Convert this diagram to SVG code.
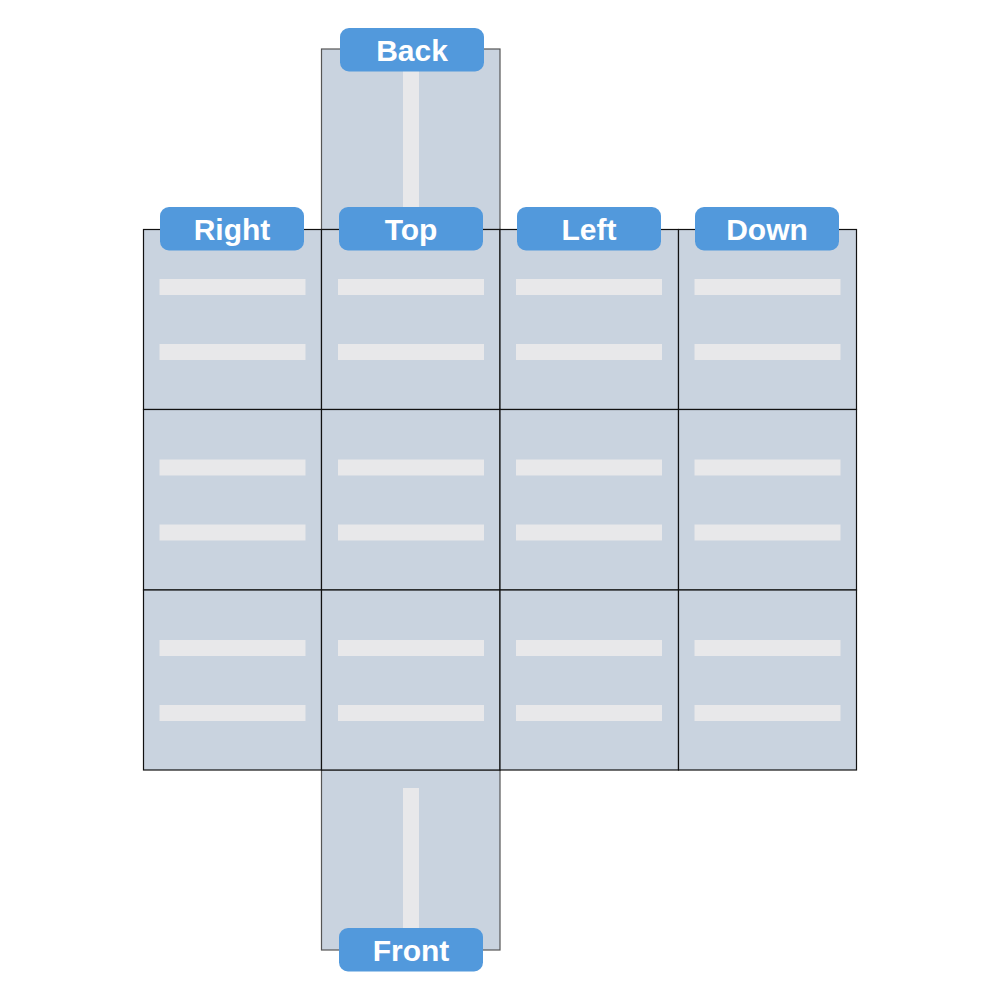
<svg xmlns="http://www.w3.org/2000/svg" width="1000" height="1000" viewBox="0 0 1000 1000">
<style>
.cell{fill:#c9d3df;stroke:#111;stroke-width:1.2}
.flap{fill:#c9d3df;stroke:#555;stroke-width:1.2}
.bar{fill:#e8e8ea}
.lbl{fill:#5299dc}
.lt{fill:#fff;font-family:"Liberation Sans",Arial,sans-serif;font-weight:bold;font-size:30px;text-anchor:middle}
</style>
<rect width="1000" height="1000" fill="#fff"/>
<g id="back">
<rect class="flap" x="321.5" y="49" width="178.5" height="180.5"/>
<rect class="bar" x="403" y="69" width="16" height="140"/>
</g>
<g id="front">
<rect class="flap" x="321.5" y="770" width="178.5" height="180"/>
<rect class="bar" x="403" y="788" width="16" height="142"/>
</g>
<g id="grid">
<g id="c11"><rect class="cell" x="143.5" y="229.5" width="178" height="180"/><rect class="bar" x="159.5" y="279" width="146" height="16"/><rect class="bar" x="159.5" y="344" width="146" height="16"/></g>
<g id="c12"><rect class="cell" x="321.5" y="229.5" width="178.5" height="180"/><rect class="bar" x="338" y="279" width="146" height="16"/><rect class="bar" x="338" y="344" width="146" height="16"/></g>
<g id="c13"><rect class="cell" x="500" y="229.5" width="178.5" height="180"/><rect class="bar" x="516" y="279" width="146" height="16"/><rect class="bar" x="516" y="344" width="146" height="16"/></g>
<g id="c14"><rect class="cell" x="678.5" y="229.5" width="178" height="180"/><rect class="bar" x="694.5" y="279" width="146" height="16"/><rect class="bar" x="694.5" y="344" width="146" height="16"/></g>
<g id="c21"><rect class="cell" x="143.5" y="409.5" width="178" height="180.5"/><rect class="bar" x="159.5" y="459.5" width="146" height="16"/><rect class="bar" x="159.5" y="524.5" width="146" height="16"/></g>
<g id="c22"><rect class="cell" x="321.5" y="409.5" width="178.5" height="180.5"/><rect class="bar" x="338" y="459.5" width="146" height="16"/><rect class="bar" x="338" y="524.5" width="146" height="16"/></g>
<g id="c23"><rect class="cell" x="500" y="409.5" width="178.5" height="180.5"/><rect class="bar" x="516" y="459.5" width="146" height="16"/><rect class="bar" x="516" y="524.5" width="146" height="16"/></g>
<g id="c24"><rect class="cell" x="678.5" y="409.5" width="178" height="180.5"/><rect class="bar" x="694.5" y="459.5" width="146" height="16"/><rect class="bar" x="694.5" y="524.5" width="146" height="16"/></g>
<g id="c31"><rect class="cell" x="143.5" y="590" width="178" height="180"/><rect class="bar" x="159.5" y="640" width="146" height="16"/><rect class="bar" x="159.5" y="705" width="146" height="16"/></g>
<g id="c32"><rect class="cell" x="321.5" y="590" width="178.5" height="180"/><rect class="bar" x="338" y="640" width="146" height="16"/><rect class="bar" x="338" y="705" width="146" height="16"/></g>
<g id="c33"><rect class="cell" x="500" y="590" width="178.5" height="180"/><rect class="bar" x="516" y="640" width="146" height="16"/><rect class="bar" x="516" y="705" width="146" height="16"/></g>
<g id="c34"><rect class="cell" x="678.5" y="590" width="178" height="180"/><rect class="bar" x="694.5" y="640" width="146" height="16"/><rect class="bar" x="694.5" y="705" width="146" height="16"/></g>
</g>
<g id="connectors"></g>
<g id="label-back"><rect class="lbl" x="340" y="28" width="144" height="43.5" rx="9"/><text class="lt" x="412" y="61">Back</text></g>
<g id="label-right"><rect class="lbl" x="160" y="207" width="144" height="43.5" rx="9"/><text class="lt" x="232" y="240">Right</text></g>
<g id="label-top"><rect class="lbl" x="339" y="207" width="144" height="43.5" rx="9"/><text class="lt" x="411" y="240">Top</text></g>
<g id="label-left"><rect class="lbl" x="517" y="207" width="144" height="43.5" rx="9"/><text class="lt" x="589" y="240">Left</text></g>
<g id="label-down"><rect class="lbl" x="695" y="207" width="144" height="43.5" rx="9"/><text class="lt" x="767" y="240">Down</text></g>
<g id="label-front"><rect class="lbl" x="339" y="928" width="144" height="43.5" rx="9"/><text class="lt" x="411" y="961">Front</text></g>
</svg>
